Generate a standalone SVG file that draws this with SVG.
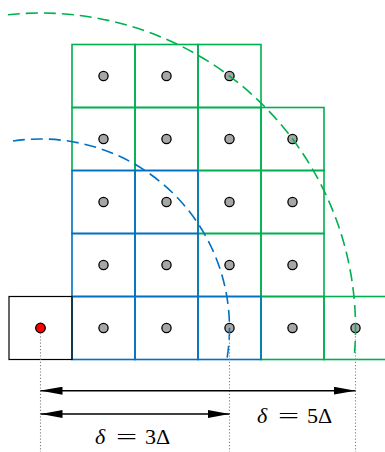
<svg xmlns="http://www.w3.org/2000/svg" width="385" height="452" viewBox="0 0 385 452">
<style>
.g{fill:none;stroke:#00b050;stroke-width:1.6}
.b{fill:none;stroke:#0070c0;stroke-width:1.6}
.k{fill:none;stroke:#000;stroke-width:1.2}
.d{fill:#a6a6a6;stroke:#000;stroke-width:1.3}
.r{fill:#ff0000;stroke:#000;stroke-width:1.3}
.arcg{fill:none;stroke:#00b050;stroke-width:1.6;stroke-dasharray:12 6}
.arcb{fill:none;stroke:#0070c0;stroke-width:1.6;stroke-dasharray:12 6}
.dot{fill:none;stroke:#808080;stroke-width:1.1;stroke-dasharray:1.2 2}
.ar{fill:none;stroke:#000;stroke-width:1.5}
.t{font-family:"Liberation Serif","DejaVu Serif",serif;font-size:22px;fill:#000}
</style>
<defs>
<marker id="ah" markerUnits="userSpaceOnUse" markerWidth="22" markerHeight="8" refX="22" refY="4" orient="auto-start-reverse" viewBox="0 0 22 8">
<path d="M0,0 L22,4 L0,8 z" fill="#000"/>
</marker>
</defs>
<g id="green-cells">
<rect class="g" x="72" y="44.5" width="63" height="63"/>
<rect class="g" x="135" y="44.5" width="63" height="63"/>
<rect class="g" x="198" y="44.5" width="63" height="63"/>
<rect class="g" x="72" y="107.5" width="63" height="63"/>
<rect class="g" x="135" y="107.5" width="63" height="63"/>
<rect class="g" x="198" y="107.5" width="63" height="63"/>
<rect class="g" x="261" y="107.5" width="63" height="63"/>
<rect class="g" x="198" y="170.5" width="63" height="63"/>
<rect class="g" x="261" y="170.5" width="63" height="63"/>
<rect class="g" x="198" y="233.5" width="63" height="63"/>
<rect class="g" x="261" y="233.5" width="63" height="63"/>
<rect class="g" x="261" y="296.5" width="63" height="63"/>
<rect class="g" x="324" y="296.5" width="63" height="63"/>
</g>
<g id="blue-cells">
<rect class="b" x="72" y="170.5" width="63" height="63"/>
<rect class="b" x="135" y="170.5" width="63" height="63"/>
<rect class="b" x="72" y="233.5" width="63" height="63"/>
<rect class="b" x="135" y="233.5" width="63" height="63"/>
<rect class="b" x="72" y="296.5" width="63" height="63"/>
<rect class="b" x="135" y="296.5" width="63" height="63"/>
<rect class="b" x="198" y="296.5" width="63" height="63"/>
</g>
<g id="origin-cell">
<rect class="k" x="9" y="296.5" width="63" height="63"/>
<circle class="r" cx="40.5" cy="328" r="4.8"/>
</g>
<g id="cell-dots">
<circle class="d" cx="103.5" cy="76" r="4.6"/>
<circle class="d" cx="166.5" cy="76" r="4.6"/>
<circle class="d" cx="229.5" cy="76" r="4.6"/>
<circle class="d" cx="103.5" cy="139" r="4.6"/>
<circle class="d" cx="166.5" cy="139" r="4.6"/>
<circle class="d" cx="229.5" cy="139" r="4.6"/>
<circle class="d" cx="292.5" cy="139" r="4.6"/>
<circle class="d" cx="103.5" cy="202" r="4.6"/>
<circle class="d" cx="166.5" cy="202" r="4.6"/>
<circle class="d" cx="229.5" cy="202" r="4.6"/>
<circle class="d" cx="292.5" cy="202" r="4.6"/>
<circle class="d" cx="103.5" cy="265" r="4.6"/>
<circle class="d" cx="166.5" cy="265" r="4.6"/>
<circle class="d" cx="229.5" cy="265" r="4.6"/>
<circle class="d" cx="292.5" cy="265" r="4.6"/>
<circle class="d" cx="103.5" cy="328" r="4.6"/>
<circle class="d" cx="166.5" cy="328" r="4.6"/>
<circle class="d" cx="229.5" cy="328" r="4.6"/>
<circle class="d" cx="292.5" cy="328" r="4.6"/>
<circle class="d" cx="355.5" cy="328" r="4.6"/>
</g>
<g id="arcs">
<path class="arcb" d="M13,141 A189,189 0 0 1 227.1,358"/>
<path class="arcg" d="M8,14.7 A315,315 0 0 1 354.1,358"/>
</g>
<g id="connectors">
<line class="dot" x1="40.5" y1="333" x2="40.5" y2="452"/>
<line class="dot" x1="229.5" y1="333" x2="229.5" y2="452"/>
<line class="dot" x1="355.5" y1="333" x2="355.5" y2="452"/>
<line class="ar" x1="40.5" y1="390.7" x2="355.5" y2="390.7" marker-start="url(#ah)" marker-end="url(#ah)"/>
<line class="ar" x1="40.5" y1="414" x2="229.5" y2="414" marker-start="url(#ah)" marker-end="url(#ah)"/>
</g>
<g id="labels">
<text class="t" y="444"><tspan x="95" font-style="italic">δ</tspan><tspan x="145">3Δ</tspan></text>
<text class="t" transform="translate(116,444) scale(1.7,1)">=</text>
<text class="t" y="422.7"><tspan x="257" font-style="italic">δ</tspan><tspan x="307">5Δ</tspan></text>
<text class="t" transform="translate(278,422.7) scale(1.7,1)">=</text>
</g>
</svg>
